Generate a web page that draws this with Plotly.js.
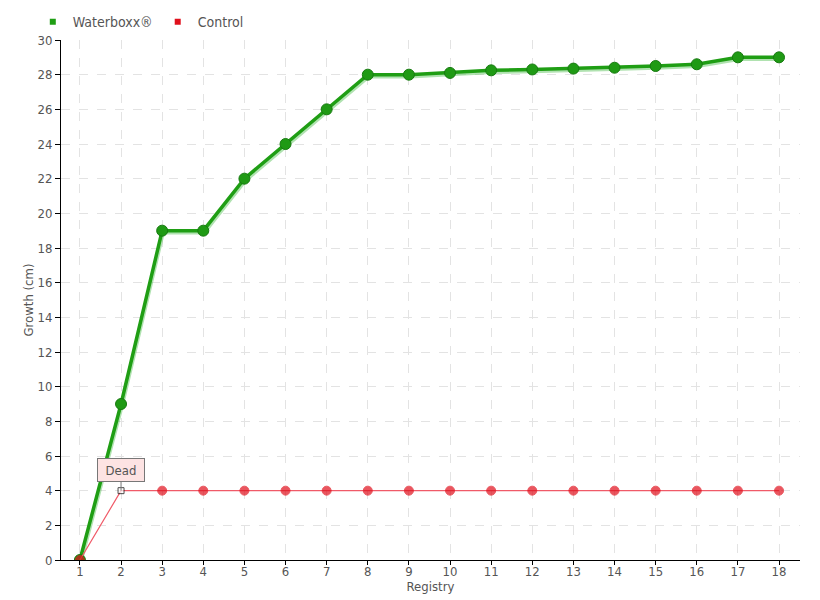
<!DOCTYPE html>
<html><head><meta charset="utf-8">
<script src="https://cdn.plot.ly/plotly-3.0.1.min.js"></script>
<style>body{margin:0}#c{width:820px;height:600px}
.scatterlayer .trace:first-child .lines path{filter:drop-shadow(1px 2px 0 rgba(80,190,80,0.45));}
</style></head><body><div id="c"></div>
<script>
const registry = [1,2,3,4,5,6,7,8,9,10,11,12,13,14,15,16,17,18];
const waterboxx = [0,9,19,19,22,24,26,28,28,28.1,28.25,28.3,28.35,28.4,28.5,28.6,29,29];
const control = [0,4,4,4,4,4,4,4,4,4,4,4,4,4,4,4,4,4];
const seriesNames = ['Waterboxx®','Control'];
const annotationText = 'Dead';
const deadIndex = 1;

const font = "'DejaVu Sans Condensed', 'Liberation Sans Narrow', 'Roboto', sans-serif";
const ctrlSymbols = control.map((v,i)=> i===deadIndex ? 'square' : 'circle');
const ctrlColors = control.map((v,i)=> i===deadIndex ? '#ffffff' : '#e0101c');
const ctrlLineColors = control.map((v,i)=> i===deadIndex ? '#000000' : '#e0101c');
const ctrlSizes = control.map((v,i)=> i===deadIndex ? 6 : 9);

const data = [
 {x: registry, y: waterboxx, mode:'lines+markers', showlegend:false, hoverinfo:'none',
  line:{color:'#1f9e14', width:3.5}, marker:{color:'#1f9a14', size:11, line:{color:'#177a10', width:1}}},
 {x: registry, y: control, mode:'lines+markers', showlegend:false, hoverinfo:'none',
  line:{color:'#f05a68', width:1.2}, marker:{color:ctrlColors, symbol:ctrlSymbols, size:ctrlSizes, line:{color:ctrlLineColors, width:1}}},
 {x:[null], y:[null], mode:'markers', name:seriesNames[0], marker:{symbol:'square', color:'#1f9e14', size:6}},
 {x:[null], y:[null], mode:'markers', name:seriesNames[1], marker:{symbol:'square', color:'#e0101c', size:6}}
];

const layout = {
 width:820, height:600,
 margin:{l:61, r:20, t:40, b:40, autoexpand:false},
 paper_bgcolor:'#fff', plot_bgcolor:'#fff',
 font:{family:font, color:'#555', size:13},
 showlegend:true,
 legend:{orientation:'h', xref:'container', yref:'container', x:0.04, y:0.963, xanchor:'left', yanchor:'middle',
  font:{size:14, color:'#555'}, itemwidth:30, tracegroupgap:0, bgcolor:'rgba(0,0,0,0)'},
 xaxis:{range:[0.54,18.51], tickmode:'array', tickvals:registry, ticks:'outside', ticklen:4, tickcolor:'#000',
  ticklabelstandoff:-5,
  showline:true, linecolor:'#000', linewidth:1, showgrid:true, gridcolor:'#e3e3e3', griddash:'dash', zeroline:false,
  title:{text:'Registry', font:{size:13, color:'#555'}, standoff:0}, tickfont:{size:13, color:'#555'}},
 yaxis:{range:[0,30], dtick:2, ticks:'outside', ticklen:5, tickcolor:'#000',
  showline:true, linecolor:'#000', linewidth:1, showgrid:true, gridcolor:'#e3e3e3', griddash:'dash', zeroline:false,
  title:{text:'Growth (cm)', font:{size:13, color:'#555'}, standoff:0}, tickfont:{size:13, color:'#555'}},
 annotations:[{x:registry[deadIndex], y:control[deadIndex], text:annotationText, showarrow:true, arrowhead:0, arrowwidth:1,
  arrowcolor:'#777', ax:0, ay:-21, bgcolor:'#fde3e3', bordercolor:'#777', borderwidth:1, width:44, height:20,
  font:{size:13, color:'#555', family:font}}]
};
Plotly.newPlot('c', data, layout, {displayModeBar:false, staticPlot:true});
</script></body></html>
